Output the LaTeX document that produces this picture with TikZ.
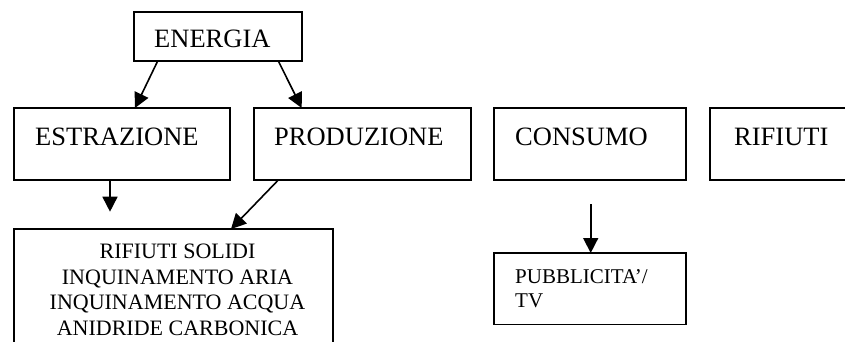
\documentclass[tikz,border=0pt]{standalone}
\usepackage{fontspec}
\setmainfont{Liberation Serif}
\usetikzlibrary{arrows.meta,calc}

\tikzset{
  box/.style={draw=black, line width=1.8pt, inner sep=0pt, outer sep=0pt,
              anchor=north west},
  lbl/.style={inner sep=0pt, anchor=base west, font=\fontsize{26.5}{30}\selectfont},
  conn/.style={line width=1.6pt, -{Triangle[length=15pt,width=15pt]}}
}

\begin{document}
\begin{tikzpicture}[x=1pt, y=-1pt]
  \useasboundingbox (0,0) rectangle (845,342);
  \clip (0,0) rectangle (845,342);

  % boxes
  \node[box, minimum width=168pt, minimum height=49pt]   (energia) at (134,12)  {};
  \node[box, minimum width=216pt, minimum height=72pt]   (estr)    at (14,108)  {};
  \node[box, minimum width=217pt, minimum height=72pt]   (prod)    at (254,108) {};
  \node[box, minimum width=192pt, minimum height=72pt]   (cons)    at (494,108) {};
  \node[box, minimum width=160pt, minimum height=72pt]   (rif)     at (710,108) {};
  \node[box, minimum width=319pt, minimum height=140pt]  (effetti) at (14,229)  {};
  \node[box, minimum width=192pt, minimum height=71.5pt] (pubb)    at (494,253) {};

  % labels (multi-line nodes sit on the baseline of their last line)
  \node[lbl] (tEnergia) at (154,47.7) {ENERGIA};
  \node[lbl] (tEstr)    at (35,146)   {ESTRAZIONE};
  \node[lbl] (tProd)    at (274,146)  {PRODUZIONE};
  \node[lbl] (tCons)    at (515,145)  {CONSUMO};
  \node[lbl] (tRif)     at (734,145)  {RIFIUTI};
  \node[inner sep=0pt, anchor=base, align=center,
        font=\fontsize{22}{25.8}\selectfont] (tEffetti) at (177.5,335.7)
        {RIFIUTI SOLIDI\\INQUINAMENTO ARIA\\INQUINAMENTO ACQUA\\ANIDRIDE CARBONICA};
  \node[inner sep=0pt, anchor=base west, align=left,
        font=\fontsize{21}{24.4}\selectfont] (tPubb) at (515,307.7)
        {PUBBLICITA’/\\TV};

  % connectors
  \draw[conn] ($(energia.south west)+(23.7,0)$) -- ($(estr.north west)+(121,0)$);
  \draw[conn] ($(energia.south west)+(144.3,0)$) -- ($(prod.north west)+(47.7,0)$);
  \coordinate (estrTip) at ($(estr.south west)+(96,31.7)$);
  \draw[conn] ($(estr.south west)+(96,0)$) -- (estrTip);
  \draw[conn] ($(prod.south west)+(24.3,0)$) -- ($(effetti.north west)+(217,0)$);
  \coordinate (consTail) at ($(pubb.north west)+(96.7,-49)$);
  \draw[conn] (consTail) -- ($(pubb.north west)+(96.7,0)$);
\end{tikzpicture}
\end{document}
